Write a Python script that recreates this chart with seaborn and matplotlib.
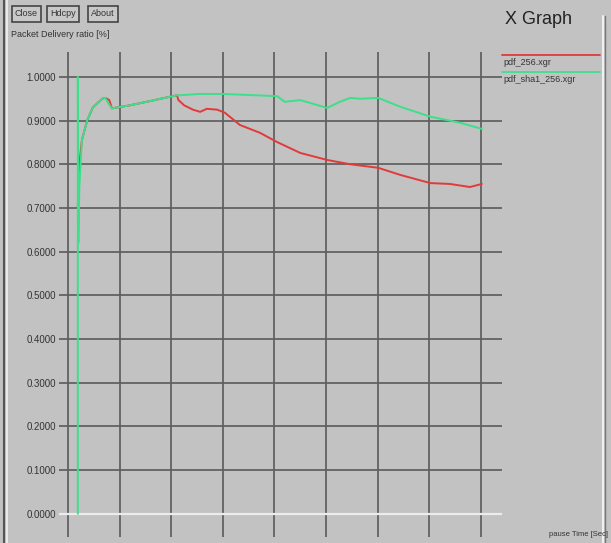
import numpy as np
import pandas as pd
import matplotlib
matplotlib.use('Agg')
import matplotlib.pyplot as plt
import seaborn as sns

# pause time (grid units x100) and packet delivery ratio
red_x = [19, 20, 22, 27, 37, 48, 66, 72, 80, 85, 120, 160, 211, 214, 225, 242, 256,
         269, 289, 304, 333, 372, 405, 450, 502, 547, 601, 643, 702, 740, 779, 802]
red_y = [0.70, 0.76, 0.80, 0.856, 0.90, 0.93, 0.95, 0.952, 0.947, 0.928, 0.935, 0.945,
         0.958, 0.947, 0.935, 0.925, 0.92, 0.927, 0.925, 0.918, 0.89, 0.872, 0.851,
         0.826, 0.81, 0.80, 0.792, 0.776, 0.757, 0.755, 0.748, 0.755]

green_x = [19, 19, 20, 22, 27, 37, 48, 66, 72, 80, 85, 120, 160, 211, 217, 256, 300,
           405, 420, 450, 502, 527, 547, 566, 601, 643, 702, 760, 802]
green_y = [0.0, 1.0, 0.62, 0.75, 0.856, 0.90, 0.93, 0.95, 0.952, 0.936, 0.928, 0.935,
           0.945, 0.958, 0.958, 0.961, 0.961, 0.956, 0.943, 0.947, 0.929, 0.943, 0.952,
           0.95, 0.952, 0.932, 0.909, 0.895, 0.881]

series_names = ['pdf_256.xgr', 'pdf_sha1_256.xgr']
series_colors = ['#e23a3a', '#3be08a']
x_ticks = list(range(0, 801, 100))
y_ticks = [round(v * 0.1, 1) for v in range(11)]

df = pd.concat([
    pd.DataFrame({'t': red_x, 'pdr': red_y, 'file': series_names[0]}),
    pd.DataFrame({'t': green_x, 'pdr': green_y, 'file': series_names[1]}),
], ignore_index=True)

bg = '#c2c2c2'
sns.set_style('white', {'axes.facecolor': bg, 'figure.facecolor': bg})
plt.rcParams['font.family'] = ['Liberation Sans', 'DejaVu Sans']

W, H = 611, 543
fig = plt.figure(figsize=(W / 100, H / 100), dpi=100)
ax = fig.add_axes([59 / W, 1 - 537 / H, (502 - 59) / W, (537 - 52) / H])

# xgraph draws points in file order, so keep it (sort=False)
sns.lineplot(data=df, x='t', y='pdr', hue='file', hue_order=series_names,
             palette=series_colors, estimator=None, sort=False, lw=1.4,
             legend=False, ax=ax, zorder=3)

ax.set_xlim(-17.5, 841)
ax.set_ylim(-0.053, 1.057)
ax.set_xticks(x_ticks)
ax.set_yticks(y_ticks)
ax.set_xticklabels([])
ax.set_yticklabels([f'{v:.4f}' for v in y_ticks], fontsize=7, color='#333333')
ax.tick_params(axis='y', length=0, pad=2)
ax.tick_params(axis='x', length=0)
for s in ax.spines.values():
    s.set_visible(False)
ax.set_xlabel('')
ax.set_ylabel('')

# grid: vertical lines full height, horizontal lines across
for xv in x_ticks:
    ax.axvline(xv, color='#5e5e5e', lw=1.25, zorder=1)
for yv in y_ticks[1:]:
    ax.axhline(yv, color='#5e5e5e', lw=1.25, zorder=1)
ax.axhline(0, color='#ececec', lw=1.6, zorder=1)

# window chrome
for label, x0 in [('Close', 15), ('Hdcpy', 50), ('About', 91)]:
    fig.text(x0 / W, 1 - 14 / H, label, fontsize=6.5, color='#333333', va='center',
             bbox=dict(boxstyle='square,pad=0.35', fc='#c8c8c8', ec='#444444', lw=1.2))
fig.text(11 / W, 1 - 34 / H, 'Packet Delivery ratio [%]', fontsize=6.5,
         color='#333333', va='center')
fig.text(505 / W, 1 - 20 / H, 'X Graph', fontsize=13, color='#222222', va='center')
fig.text(549 / W, 1 - 535 / H, 'pause Time [Sec]', fontsize=5.5, color='#333333', va='center')

# legend
for i, (name, col) in enumerate(zip(series_names, series_colors)):
    y_line = 1 - (55 + 17 * i) / H
    fig.add_artist(plt.Line2D([502 / W, 600 / W], [y_line, y_line], color=col, lw=1.3))
    fig.text(503 / W, y_line - 8 / H, name, fontsize=6.5, color='#333333', va='center')

# window borders
fig.add_artist(plt.Line2D([4 / W, 4 / W], [0, 1], color='#555555', lw=1.5))
fig.add_artist(plt.Line2D([6.5 / W, 6.5 / W], [0, 1], color='#f2f2f2', lw=1.2))
fig.add_artist(plt.Line2D([603 / W, 603 / W], [0, 0.97], color='#f0f0f0', lw=1.5))
fig.add_artist(plt.Line2D([605 / W, 605 / W], [0, 0.97], color='#777777', lw=1.0))

fig.savefig('out.png', dpi=100, facecolor=bg)
